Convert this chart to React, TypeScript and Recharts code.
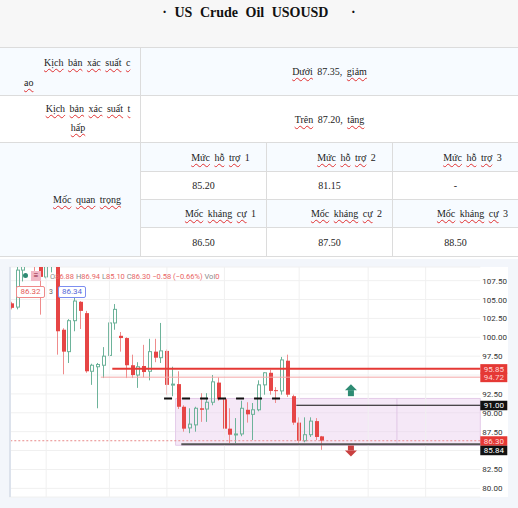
import React from 'react';
import {
  ComposedChart,
  Bar,
  XAxis,
  YAxis,
  CartesianGrid,
  ReferenceLine,
  ReferenceArea,
  ReferenceDot,
} from 'recharts';

// daily candles, last one = legend O/H/L/C
const opens = [104.5, 104.0, 108.9, 110.2, 111.5, 109.8, 108.0, 110.3, 111.0, 101.0,
  98.1, 102.2, 104.7, 103.2, 95.5, 96.1, 96.3, 97.6, 101.9, 100.2,
  99.9, 96.3, 95.0, 96.2, 95.5, 98.1, 97.3, 98.2, 93.7, 93.8,
  90.8, 88.0, 88.4, 90.6, 90.5, 91.4, 94.0, 91.8, 87.9, 87.1,
  87.2, 90.4, 89.8, 90.4, 93.7, 95.3, 93.0, 92.9, 96.9, 92.2,
  88.7, 86.3, 87.1, 88.9, 86.88];
const highs = [104.7, 109.6, 111.0, 112.0, 112.0, 110.5, 111.0, 111.5, 111.2, 101.2,
  102.4, 105.3, 104.8, 103.5, 96.5, 96.6, 98.7, 102.8, 104.4, 100.7,
  100.0, 97.7, 96.7, 99.0, 99.8, 99.8, 101.9, 98.4, 96.1, 95.5,
  91.0, 90.6, 90.8, 92.6, 92.6, 95.0, 94.7, 92.0, 90.6, 89.3,
  91.6, 91.4, 91.3, 94.3, 95.4, 95.7, 93.4, 97.4, 97.7, 92.4,
  89.4, 89.4, 89.4, 89.3, 86.94];
const lows = [103.7, 103.7, 107.4, 109.4, 108.8, 103.0, 107.8, 108.6, 97.7, 95.1,
  96.6, 100.8, 101.1, 95.3, 93.7, 90.6, 94.6, 97.3, 101.0, 98.1,
  94.6, 94.6, 93.3, 94.7, 94.3, 96.7, 96.6, 92.4, 92.2, 90.5,
  87.5, 87.3, 87.5, 88.8, 88.8, 91.0, 91.6, 86.7, 86.0, 86.0,
  86.9, 88.7, 86.4, 90.2, 92.4, 92.4, 91.3, 92.4, 92.1, 88.4,
  86.0, 86.1, 86.8, 86.4, 85.10];
const closes = [103.9, 108.9, 110.2, 111.5, 109.8, 108.0, 110.3, 111.0, 100.8, 98.1,
  102.2, 104.8, 103.5, 95.5, 96.3, 96.4, 97.5, 101.9, 103.7, 99.9,
  96.3, 95.0, 96.1, 95.4, 98.1, 97.3, 98.2, 93.7, 93.8, 90.8,
  87.9, 88.5, 90.6, 90.4, 91.4, 94.1, 91.8, 87.9, 87.1, 87.2,
  90.6, 89.8, 90.4, 93.7, 95.3, 92.9, 92.9, 97.0, 92.4, 88.7,
  86.3, 87.1, 88.9, 86.8, 86.30];

const slotCount = 82; // candles + empty space on the right
const yTicks = [80, 82.5, 85, 87.5, 90, 92.5, 95, 97.5, 100, 102.5, 105, 107.5];
const gridSlots = [6, 17, 27, 37, 50, 62, 72];

// drawn levels
const resistance = 95.85;
const resistanceSoft = 94.72;
const zoneTop = 91.9;
const pivot = 91.0;
const lastPrice = 86.3;
const support = 85.84;
const zoneBottom = 85.7;
const upArrowAt = 93.0;
const downArrowAt = 85.0;

// table text
const scenarioRows = [
  { label: ['Kịch bản xác suất c', 'ao'], text: 'Dưới 87.35, giảm' },
  { label: ['Kịch bản xác suất t', 'hấp'], text: 'Trên 87.20, tăng' },
];
const supportNames = ['Mức hỗ trợ 1', 'Mức hỗ trợ 2', 'Mức hỗ trợ 3'];
const supportValues = ['85.20', '81.15', '-'];
const resistanceNames = ['Mốc kháng cự 1', 'Mốc kháng cự 2', 'Mốc kháng cự 3'];
const resistanceValues = ['86.50', '87.50', '88.50'];

const rows = Array.from({ length: slotCount }, (_, i) =>
  i < opens.length
    ? { slot: i, open: opens[i], high: highs[i], low: lows[i], close: closes[i], range: [lows[i], highs[i]] }
    : { slot: i }
);

const UP = '#6db39a';
const DOWN = '#e64545';
const DOWN_WICK = '#ef8c8c';
const sans = 'Roboto, sans-serif';
const serif = '"Liberation Serif", "Times New Roman", serif';
const BORDER = '1px solid #dcdcdc';

const Candle = (props: any) => {
  const { x, y, width, height, payload } = props;
  if (!payload || payload.open == null || !height) return null;
  const { open, high, low, close } = payload;
  const k = height / (high - low);
  const top = y + (high - Math.max(open, close)) * k;
  const bodyH = Math.max(Math.abs(open - close) * k, 1);
  const bx = Math.round(x + width / 2 - 2);
  const wx = bx + 1.5;
  if (close >= open) {
    return (
      <g>
        <line x1={wx} x2={wx} y1={y} y2={top} stroke={UP} />
        <line x1={wx} x2={wx} y1={top + bodyH} y2={y + height} stroke={UP} />
        <rect x={bx + 0.5} y={top} width={3} height={bodyH} fill="none" stroke={UP} />
      </g>
    );
  }
  return (
    <g>
      <line x1={wx} x2={wx} y1={y} y2={y + height} stroke={DOWN_WICK} />
      <rect x={bx} y={top} width={4} height={bodyH} fill={DOWN} />
    </g>
  );
};

const tagPrices = [resistance, resistanceSoft, pivot, lastPrice, support];

const PriceTick = (props: any) => {
  const { x, y, payload } = props;
  if (tagPrices.some((p) => Math.abs(p - payload.value) < 0.9)) return null;
  return (
    <text x={x} y={y} dy={3} fontSize={8} fill="#333" fontFamily={sans}>
      {payload.value.toFixed(2)}
    </text>
  );
};

const tag = (text: string, bg: string, fg: string, shift = 0) => (props: any) => {
  const vb = props.viewBox || {};
  const left = vb.x + vb.width;
  const mid = vb.y + shift;
  return (
    <g>
      <rect x={left} y={mid - 4.5} width={27} height={9.5} fill={bg} />
      <text x={left + 3.5} y={mid + 3} fontSize={8} fill={fg} fontFamily={sans}>
        {text}
      </text>
    </g>
  );
};

const UpArrow = (props: any) => {
  const { cx, cy } = props;
  return (
    <g fill="#2e8b73">
      <polygon points={`${cx - 6},${cy} ${cx},${cy - 6} ${cx + 6},${cy}`} />
      <rect x={cx - 3} y={cy} width={6} height={6} />
    </g>
  );
};

const DownArrow = (props: any) => {
  const { cx, cy } = props;
  return (
    <g fill="#c94040">
      <rect x={cx - 3} y={cy - 5} width={6} height={5} />
      <polygon points={`${cx - 6},${cy} ${cx},${cy + 6} ${cx + 6},${cy}`} />
    </g>
  );
};

const wavy: React.CSSProperties = {
  textDecorationLine: 'underline',
  textDecorationStyle: 'wavy',
  textDecorationColor: '#e03131',
  textDecorationThickness: '1px',
  textUnderlineOffset: '2px',
  textDecorationSkipInk: 'none',
};

// one span so flex cells keep the spaces between words
const Words = ({ text }: { text: string }) => (
  <span>
    {text.split(' ').map((w, i) => (
      <React.Fragment key={i}>
        {i > 0 && ' '}
        {/[^\d.,\-]/.test(w) ? <span style={wavy}>{w}</span> : w}
      </React.Fragment>
    ))}
  </span>
);

const cell = (left: number, top: number, width: number, height: number, bg: string): React.CSSProperties => ({
  position: 'absolute',
  left,
  top,
  width,
  height,
  boxSizing: 'border-box',
  borderRight: BORDER,
  borderBottom: BORDER,
  background: bg,
  display: 'flex',
  alignItems: 'center',
  justifyContent: 'center',
});

const LevelsTable = () => {
  const cols = [140, 266, 392];
  const subRows = [
    { top: 142, h: 29, items: supportNames, head: true },
    { top: 171, h: 28, items: supportValues, head: false },
    { top: 199, h: 28, items: resistanceNames, head: true },
    { top: 227, h: 29, items: resistanceValues, head: false },
  ];
  return (
    <div
      style={{
        position: 'absolute', left: 0, top: 0, width: 518, height: 256,
        boxSizing: 'border-box', borderLeft: BORDER, borderTop: BORDER,
        fontFamily: serif, fontSize: 10, color: '#222', wordSpacing: 2,
      }}
    >
      <div style={{ ...cell(-1, -1, 519, 48, '#f7f7f7'), alignItems: 'flex-start', paddingTop: 5 }}>
        <span style={{ fontWeight: 'bold', fontSize: 14, wordSpacing: 4, color: '#111', whiteSpace: 'pre' }}>
          {'· US Crude Oil USOUSD   ·'}
        </span>
      </div>

      <div style={{ ...cell(-1, 47, 141, 48, '#f7fbff'), display: 'block', paddingTop: 5, lineHeight: '20px' }}>
        <div style={{ paddingLeft: 44 }}><Words text={scenarioRows[0].label[0]} /></div>
        <div style={{ paddingLeft: 24 }}><Words text={scenarioRows[0].label[1]} /></div>
      </div>
      <div style={cell(140, 47, 378, 48, '#f7fbff')}><Words text={scenarioRows[0].text} /></div>

      <div style={{ ...cell(-1, 95, 141, 47, '#fff'), display: 'block', paddingTop: 3, lineHeight: '19px', textAlign: 'center' }}>
        <div style={{ paddingLeft: 36 }}><Words text={scenarioRows[1].label[0]} /></div>
        <div style={{ paddingLeft: 16 }}><Words text={scenarioRows[1].label[1]} /></div>
      </div>
      <div style={cell(140, 95, 378, 47, '#fff')}><Words text={scenarioRows[1].text} /></div>

      <div style={{ ...cell(-1, 142, 141, 114, '#f7fbff'), paddingLeft: 34 }}>
        <Words text="Mốc quan trọng" />
      </div>
      {subRows.map((r) =>
        r.items.map((t, j) => (
          <div
            key={`${r.top}-${j}`}
            style={{ ...cell(cols[j], r.top, 126, r.h, r.head ? '#f7fbff' : '#fff'), paddingLeft: r.head ? 34 : 0 }}
          >
            <Words text={t} />
          </div>
        ))
      )}
    </div>
  );
};

const gray = { color: '#8a8a8a' };
const red = { color: '#e96565' };

export default function App() {
  return (
    <div style={{ position: 'relative', width: 518, height: 508, background: '#fff', overflow: 'hidden' }}>
      <style>{'body{margin:0}'}</style>
      <LevelsTable />

      <div style={{ position: 'absolute', left: 0, top: 259, width: 518, height: 249, background: '#f3f6fb' }}>
        <div style={{ position: 'absolute', left: 11, top: 8, width: 497, height: 230, background: '#fff' }} />
        <div style={{ position: 'absolute', left: 0, top: 0 }}>
          <ComposedChart width={518} height={249} data={rows} margin={{ top: 8, right: 8, bottom: 11, left: 8.8 }}>
            <CartesianGrid vertical={false} stroke="#f0f0f0" />
            <XAxis dataKey="slot" hide />
            <YAxis
              orientation="right"
              domain={[78.85, 109.31]}
              ticks={yTicks}
              interval={0}
              allowDataOverflow
              width={29.7}
              tickSize={0}
              tickMargin={2}
              axisLine={false}
              tickLine={false}
              tick={<PriceTick />}
            />
            {gridSlots.map((s) => (
              <ReferenceLine key={s} x={s} stroke="#f0f0f0" />
            ))}
            <ReferenceArea
              x1={29}
              x2={slotCount - 1}
              y1={zoneBottom}
              y2={zoneTop}
              fill="#e9cdee"
              fillOpacity={0.45}
              stroke="#e4cbe9"
            />
            <ReferenceLine segment={[{ x: 67, y: zoneBottom }, { x: 67, y: zoneTop }]} stroke="#e0c6e6" />
            <ReferenceLine
              y={lastPrice}
              stroke="#e88a8a"
              strokeDasharray="2 2"
              label={tag('86.30', '#e53935', '#ffd9d9')}
            />
            <Bar dataKey="range" barSize={4} shape={Candle} isAnimationActive={false} />
            <ReferenceLine
              segment={[{ x: 15, y: resistanceSoft }, { x: slotCount - 1, y: resistanceSoft }]}
              position="end"
              stroke="#f3a6a6"
              label={tag('94.72', '#e53935', '#ffd0d0')}
            />
            <ReferenceLine
              segment={[{ x: 17, y: resistance }, { x: slotCount - 1, y: resistance }]}
              position="end"
              stroke="#e53935"
              strokeWidth={2}
              label={tag('95.85', '#e53935', '#ffd9d9')}
            />
            <ReferenceLine
              segment={[{ x: 26, y: zoneTop }, { x: 47, y: zoneTop }]}
              position="end"
              stroke="#111"
              strokeWidth={2}
              strokeDasharray="8 10"
            />
            <ReferenceLine
              segment={[{ x: 49, y: pivot }, { x: slotCount - 1, y: pivot }]}
              position="end"
              stroke="#111"
              strokeWidth={1.2}
              label={tag('91.00', '#111', '#fff')}
            />
            <ReferenceLine
              segment={[{ x: 29, y: support }, { x: slotCount - 1, y: support }]}
              position="end"
              stroke="#555"
              strokeWidth={2}
              label={tag('85.84', '#111', '#fff', 6)}
            />
            <ReferenceDot x={59} y={upArrowAt} shape={UpArrow} />
            <ReferenceDot x={59} y={downArrowAt} shape={DownArrow} />
          </ComposedChart>
        </div>

        <div style={{ position: 'absolute', left: 0, top: 8, width: 9, height: 230, background: '#f3f6fb', borderRight: '2px solid #dce2ec' }} />

        <div style={{ position: 'absolute', left: 23, top: 14, width: 5, height: 5, borderRadius: 3, background: '#2e8b73' }} />
        <div style={{ position: 'absolute', left: 31, top: 12, width: 10, height: 10, background: '#f2b8c6', color: '#8a2040', fontSize: 8, lineHeight: '10px', textAlign: 'center', fontFamily: sans }}>≡</div>
        <div style={{ position: 'absolute', left: 50, top: 13, fontFamily: sans, fontSize: 7.5, lineHeight: '9px', whiteSpace: 'pre' }}>
          <span style={gray}>O</span><span style={red}>86.88 </span>
          <span style={gray}>H</span><span style={red}>86.94 </span>
          <span style={gray}>L</span><span style={red}>85.10 </span>
          <span style={gray}>C</span><span style={red}>86.30 −0.58 (−0.66%) </span>
          <span style={gray}>Vol</span><span style={red}>0</span>
        </div>
        <div style={{ position: 'absolute', left: 16, top: 27, width: 29, height: 12, boxSizing: 'border-box', border: '1px solid #ef8a8a', borderRadius: 2, background: '#fff', color: '#e55a5a', fontFamily: sans, fontSize: 8, lineHeight: '10px', textAlign: 'center' }}>86.32</div>
        <div style={{ position: 'absolute', left: 49, top: 28, color: '#666', fontFamily: sans, fontSize: 7, lineHeight: '10px' }}>3</div>
        <div style={{ position: 'absolute', left: 58, top: 27, width: 28, height: 12, boxSizing: 'border-box', border: '1px solid #7d8ef0', borderRadius: 2, background: '#fff', color: '#5668d8', fontFamily: sans, fontSize: 8, lineHeight: '10px', textAlign: 'center' }}>86.34</div>
      </div>
    </div>
  );
}
